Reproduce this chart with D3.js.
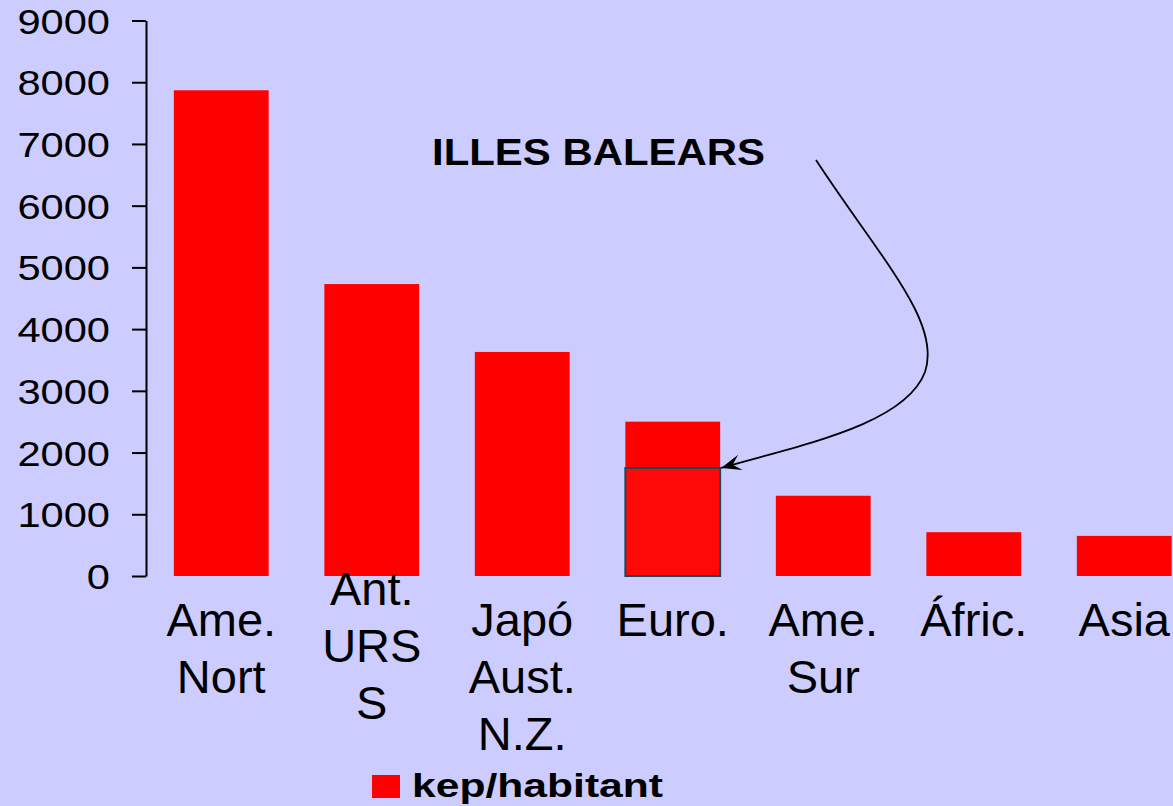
<!DOCTYPE html>
<html lang="en">
<head>
    <meta charset="UTF-8">
    <title>kep/habitant</title>
    <script src="https://d3js.org/d3.v7.min.js"></script>
    <style>
        html, body {
            margin: 0;
            padding: 0;
            background: #ccccff;
        }
        svg {
            display: block;
            font-family: "Liberation Sans", Arial, sans-serif;
        }
    </style>
</head>
<body>
    <div id="chart"></div>

    <script>
        // data
        const categories = ["Ame. Nort", "Ant. URSS", "Japó Aust. N.Z.", "Euro.", "Ame. Sur", "Áfric.", "Asia"];
        const labelLines = [["Ame.", "Nort"], ["Ant.", "URS", "S"], ["Japó", "Aust.", "N.Z."], ["Euro."], ["Ame.", "Sur"], ["Áfric."], ["Asia"]];
        const values = [7870, 4730, 3630, 2500, 1300, 710, 650];
        const yTicks = [0, 1000, 2000, 3000, 4000, 5000, 6000, 7000, 8000, 9000];
        const balearsValue = 1750;
        const balearsCategory = "Euro.";
        const seriesName = "kep/habitant";
        const noteText = "ILLES BALEARS";

        const W = 1173, H = 806;

        const svg = d3.select("#chart")
            .append("svg")
            .attr("width", W)
            .attr("height", H);

        const x = d3.scaleBand()
            .domain(categories)
            .range([146, 1199.5])
            .paddingInner(0.37)
            .paddingOuter(0.185);

        const y = d3.scaleLinear()
            .domain([0, 9000])
            .range([576, 20.5]);

        // bars
        svg.selectAll("rect.bar")
            .data(values)
            .enter()
            .append("rect")
            .attr("class", "bar")
            .attr("x", (d, i) => x(categories[i]))
            .attr("y", d => y(d))
            .attr("width", x.bandwidth())
            .attr("height", d => y(0) - y(d))
            .attr("fill", "#ff0000");

        // y axis (labels a bit wide, like the original)
        const yAxis = svg.append("g")
            .attr("transform", "translate(146,0)")
            .call(d3.axisLeft(y).tickValues(yTicks).tickFormat(d3.format("d"))
                .tickSize(14).tickSizeOuter(0).tickPadding(22));
        yAxis.select(".domain").attr("stroke", "#000").attr("stroke-width", 2);
        yAxis.selectAll(".tick line").attr("stroke", "#000").attr("stroke-width", 2);
        yAxis.selectAll(".tick text")
            .attr("fill", "#000")
            .attr("font-size", 35)
            .attr("font-family", "Liberation Sans, Arial, sans-serif")
            .attr("x", 0)
            .attr("dy", "0.36em")
            .attr("transform", "translate(-36,0) scale(1.19,1)");

        // category labels (several lines)
        const labels = svg.append("g");
        categories.forEach((c, i) => {
            const shift = i === 1 ? -31 : 0;
            const cx = x(c) + x.bandwidth() / 2;
            const t = labels.append("text")
                .attr("x", cx)
                .attr("y", 636 + shift)
                .attr("text-anchor", "middle")
                .attr("font-size", 47)
                .attr("fill", "#000");
            labelLines[i].forEach((line, j) => {
                t.append("tspan")
                    .attr("x", cx)
                    .attr("dy", j === 0 ? 0 : 57)
                    .text(line);
            });
        });

        // Balears box inside the Euro bar
        const bx = x(balearsCategory);
        svg.append("rect")
            .attr("x", bx)
            .attr("y", y(balearsValue))
            .attr("width", x.bandwidth())
            .attr("height", y(0) - y(balearsValue))
            .attr("fill", "#ff0808")
            .attr("stroke", "#1d4a57")
            .attr("stroke-width", 2);

        // note + arrow
        svg.append("text")
            .attr("x", 432)
            .attr("y", 165)
            .attr("font-size", 36)
            .attr("font-weight", "bold")
            .attr("fill", "#000")
            .attr("textLength", 333)
            .attr("lengthAdjust", "spacingAndGlyphs")
            .text(noteText);

        svg.append("defs").append("marker")
            .attr("id", "head")
            .attr("viewBox", "-22 -10 24 20")
            .attr("refX", 0)
            .attr("refY", 0)
            .attr("markerWidth", 24)
            .attr("markerHeight", 20)
            .attr("markerUnits", "userSpaceOnUse")
            .attr("orient", "auto")
            .append("path")
            .attr("d", "M0,0 L-20,-8 L-12,0 L-20,8 Z")
            .attr("fill", "#000");

        const ex = bx + x.bandwidth() + 1, ey = y(balearsValue);
        const p = d3.path();
        p.moveTo(816, 160);
        p.bezierCurveTo(880, 258, 942, 322, 925, 372);
        p.bezierCurveTo(905, 425, 800, 445, ex, ey);
        svg.append("path")
            .attr("d", p.toString())
            .attr("fill", "none")
            .attr("stroke", "#000")
            .attr("stroke-width", 1.8)
            .attr("marker-end", "url(#head)");

        // legend
        const legend = svg.append("g");
        legend.append("rect")
            .attr("x", 372)
            .attr("y", 775)
            .attr("width", 28)
            .attr("height", 23)
            .attr("fill", "#ff0000");
        legend.append("text")
            .attr("x", 412)
            .attr("y", 797)
            .attr("font-size", 33)
            .attr("font-weight", "bold")
            .attr("fill", "#000")
            .attr("textLength", 251)
            .attr("lengthAdjust", "spacingAndGlyphs")
            .text(seriesName);
    </script>
</body>
</html>
